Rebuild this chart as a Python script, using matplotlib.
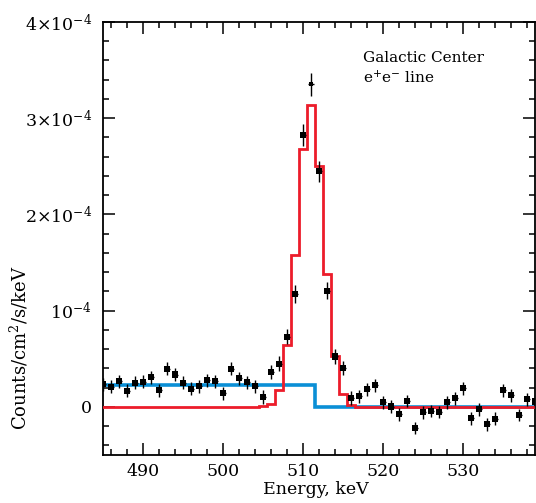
import numpy as np
import matplotlib
matplotlib.use("Agg")
import matplotlib.pyplot as plt
from matplotlib.ticker import MultipleLocator, FixedLocator, FixedFormatter

# ---- data (counts in units of 1e-4 counts/cm^2/s/keV) ----
energy = np.arange(485, 540)
counts = [0.236, 0.208, 0.267, 0.166, 0.25, 0.26, 0.31, 0.173, 0.395, 0.336,
          0.25, 0.187, 0.215, 0.277, 0.267, 0.142, 0.395, 0.298, 0.257, 0.215,
          0.10, 0.365, 0.448, 0.729, 1.174, 2.823, 3.354, 2.448, 1.208, 0.524,
          0.403, 0.09, 0.11, 0.184, 0.225, 0.048, 0.003, -0.077, 0.062, -0.219,
          -0.056, -0.042, -0.052, 0.048, 0.09, 0.194, -0.118, -0.025, -0.181, -0.122,
          0.173, 0.121, -0.084, 0.08, 0.055]
errors = [0.068] * 20 + [0.075, 0.075, 0.078, 0.08, 0.09, 0.115, 0.118, 0.112, 0.09, 0.08,
          0.075, 0.07] + [0.066] * 23
model_edges = np.arange(484.5, 540.0, 1.0)
line_model = [0.0] * 20 + [0.01, 0.034, 0.177, 0.639, 1.583, 2.68, 3.135, 2.50, 1.38, 0.524,
              0.132, 0.018] + [0.0] * 23
continuum_model = [0.232] * 27 + [0.0] * 28
scale = 1e-4
ytick_values = [0, 1e-4, 2e-4, 3e-4, 4e-4]
ytick_labels = ['0', r'$10^{-4}$', r'$2{\times}10^{-4}$', r'$3{\times}10^{-4}$', r'$4{\times}10^{-4}$']
xtick_values = [490, 500, 510, 520, 530]

plt.rcParams['font.family'] = ['DejaVu Serif']
plt.rcParams['mathtext.fontset'] = 'dejavuserif'

fig = plt.figure(figsize=(5.36, 5.03), dpi=100)
ax = fig.add_axes([103/536, 1 - 455/503, 433/536 - 0.002, 433/503])

c = np.array(counts) * scale
e = np.array(errors) * scale
ax.stairs(np.array(continuum_model) * scale, model_edges, color='#0a8fd6', lw=2.6, baseline=None, zorder=2)
ax.stairs(np.array(line_model) * scale, model_edges, color='#ec1c2a', lw=2.0, baseline=None, zorder=3)
ax.errorbar(energy, c, yerr=e, xerr=0.35, fmt='none', ecolor='black', elinewidth=1.0, capsize=0, zorder=4)
sizes = np.where(energy == 511, 9, 20)
ax.scatter(energy, c, s=sizes, marker='s', color='black', zorder=5, linewidths=0)

ax.set_xlim(485, 539)
ax.set_ylim(-0.5e-4, 4e-4)
ax.xaxis.set_major_locator(FixedLocator(xtick_values))
ax.xaxis.set_minor_locator(MultipleLocator(2))
ax.yaxis.set_major_locator(FixedLocator(ytick_values))
ax.yaxis.set_major_formatter(FixedFormatter(ytick_labels))
ax.yaxis.set_minor_locator(MultipleLocator(0.2e-4))
ax.tick_params(which='both', direction='in', top=True, right=True, width=1.1, labelsize=12.5)
ax.tick_params(which='major', length=8.5)
ax.tick_params(axis='y', which='major', pad=8)
ax.tick_params(axis='x', which='major', pad=6)
ax.tick_params(which='minor', length=4.3)
for s in ax.spines.values():
    s.set_linewidth(1.3)

fig.text(316/536, 1 - 494/503, 'Energy, keV', ha='center', va='baseline', fontsize=12.5)
fig.text(19/536, 1 - 348/503, 'Counts/cm$^2$/s/keV', rotation=90, ha='center', va='center', fontsize=13)
fig.text(363/536, 1 - 51/503, 'Galactic Center\ne$^{+}$e$^{-}$ line', ha='left', va='top', fontsize=11, linespacing=1.3)

fig.savefig('out.png', dpi=100)
